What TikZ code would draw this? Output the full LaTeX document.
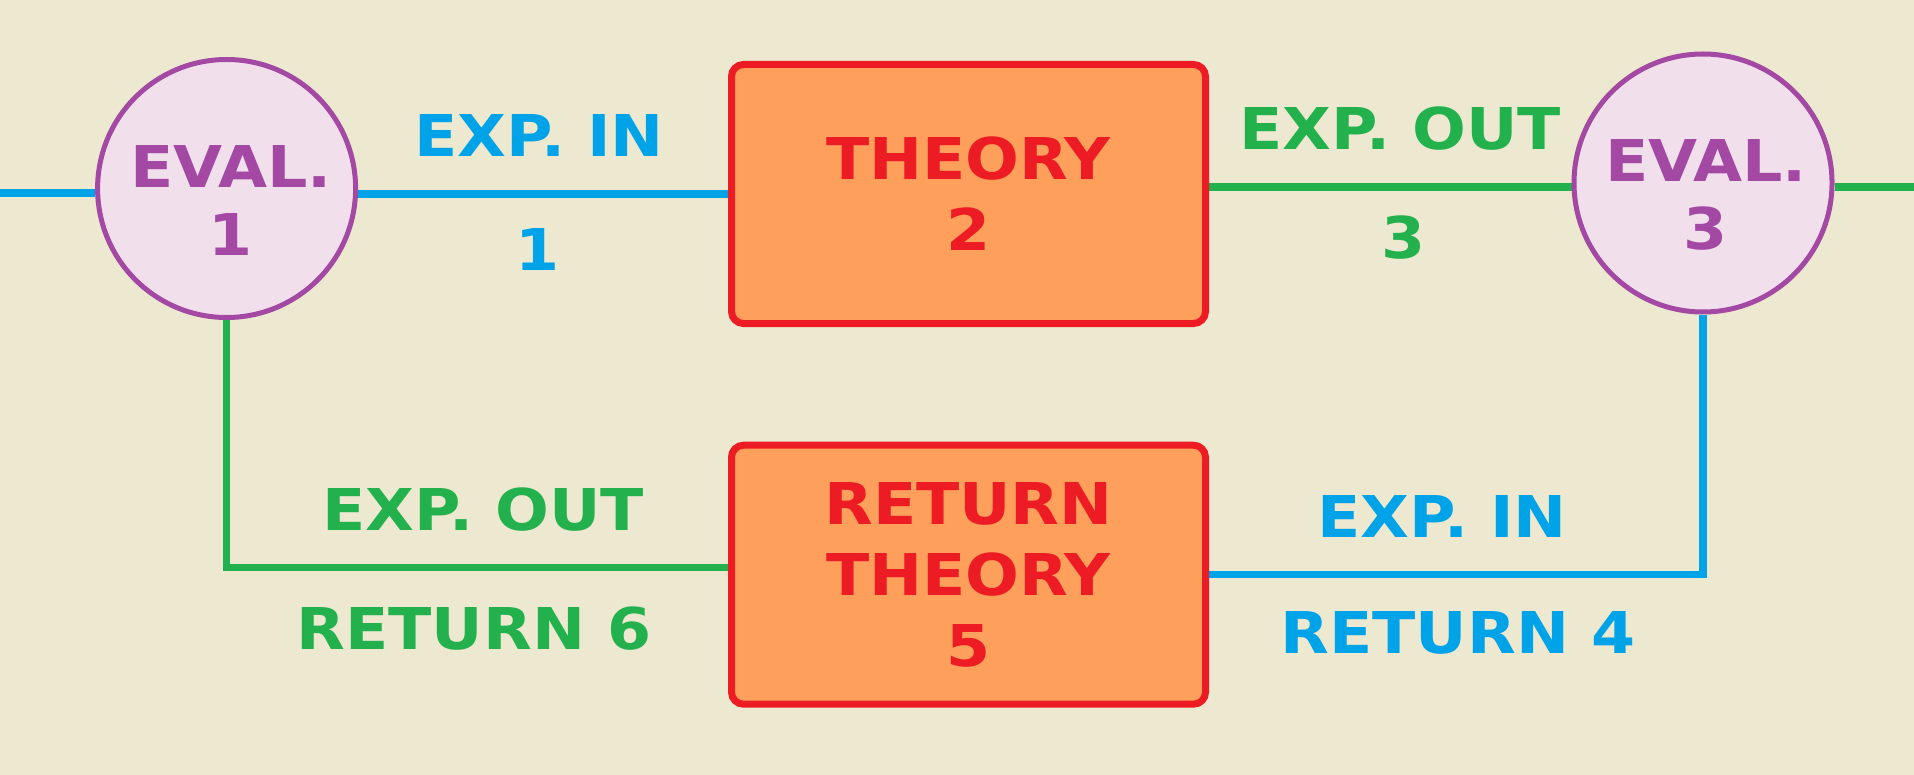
\documentclass[tikz,border=0pt]{standalone}
\usepackage{fontspec}
\newfontfamily\techfont[FakeStretch=1.1]{DejaVu Sans}
\definecolor{bgcream}{HTML}{EDE8D0}
\definecolor{linkblue}{HTML}{00A2E8}
\definecolor{linkgreen}{HTML}{22B14C}
\definecolor{theoryred}{HTML}{ED1C24}
\definecolor{theoryorange}{HTML}{FF9F5C}
\definecolor{evalpurple}{HTML}{A349A4}
\definecolor{evalpink}{HTML}{F1E0EC}
\pgfdeclarelayer{bg}
\pgfsetlayers{bg,main}

\begin{document}
\begin{tikzpicture}[x=0.5pt,y=-0.5pt,
		every node/.style={font=\techfont\bfseries\fontsize{28.8pt}{35.5pt}\selectfont, align=center},
		evalcirc/.style={circle, draw=evalpurple, fill=evalpink, line width=2.5pt, minimum size=129pt, inner sep=0pt},
		evaltext/.style={text=evalpurple, font=\techfont\bfseries\fontsize{28.8pt}{34pt}\selectfont},
		theorybox/.style={rectangle, rounded corners=6pt, draw=theoryred, fill=theoryorange, line width=3.5pt, minimum width=237pt, minimum height=129.5pt, inner sep=0pt, text=theoryred},
		bluelink/.style={draw=linkblue, line width=3.75pt},
		greenlink/.style={draw=linkgreen, line width=3.75pt}]
		\begin{pgfonlayer}{bg}
			\fill[bgcream] (0,0) rectangle (1914,775);
		\end{pgfonlayer}
		\useasboundingbox (0,0) rectangle (1914,775);
		% evaluations and theories
		\node [evalcirc] (e1) at (226.6,188.5) {};
		\node [evalcirc] (e3) at (1703,183) {};
		\node [evaltext] (e1txt) at (231,201) {EVAL.\\1};
		\node [evaltext] (e3txt) at (1706,195) {EVAL.\\3};
		\node [theorybox] (t2) at (968.5,194) {THEORY\\2};
		\node [theorybox] (t5) at (968.5,574.7) {RETURN\\THEORY\\5};
		\coordinate (inL) at (0,193);
		\coordinate (outR) at (1914,187);
		% links
		\begin{pgfonlayer}{bg}
			\draw [bluelink] (inL) -- (inL -| e1.west);
			\draw [bluelink] (e1.east |- t2.west) -- (t2.west);
			\draw [greenlink] ([yshift=3.6pt]t2.east) -- ([yshift=3.6pt]t2.east -| e3.west);
			\draw [greenlink] (e3.east |- outR) -- (outR);
			\draw [bluelink] (t5.east) -| (e3.south);
			\draw [greenlink] ([yshift=3.6pt]t5.west) -| (e1.south);
		\end{pgfonlayer}
		\node [text=linkblue] (topin) at (539,136) {EXP. IN};
		\node [text=linkblue] (topinnum) at (538,250) {1};
		\node [text=linkgreen] (topout) at (1400,129) {EXP. OUT};
		\node [text=linkgreen] (topoutnum) at (1404,238) {3};
		\node [text=linkgreen] (lowout) at (483,510) {EXP. OUT};
		\node [text=linkgreen] (lowoutnum) at (474,629) {RETURN 6};
		\node [text=linkblue] (lowin) at (1442,516) {EXP. IN};
		\node [text=linkblue] (lowinnum) at (1458,633) {RETURN 4};
	\end{tikzpicture}
\end{document}
